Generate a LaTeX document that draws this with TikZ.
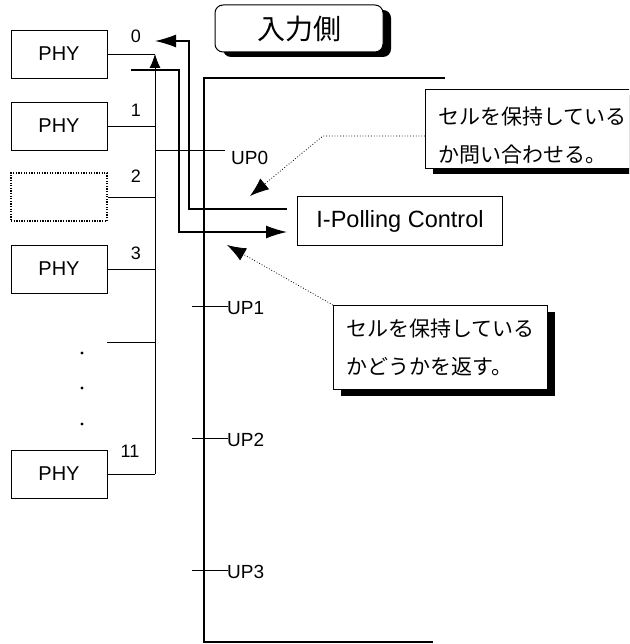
\documentclass[tikz,border=0pt]{standalone}
\usepackage{fontspec}
\setmainfont{Liberation Sans}
\newfontfamily\jpfont{Noto Sans CJK JP}
\usetikzlibrary{arrows.meta, positioning, shadows}

\begin{document}
\begin{tikzpicture}[x=1pt, y=-1pt, >={Latex[length=21pt,width=13pt]},
    phybox/.style={draw, line width=0.8pt, minimum width=96pt, minimum height=48pt, inner sep=0pt, font=\fontsize{20}{24}\selectfont},
    portnum/.style={inner sep=0pt, font=\fontsize{18}{20}\selectfont},
    uplabel/.style={anchor=west, inner sep=0pt, font=\fontsize{19}{22}\selectfont},
    wire/.style={line width=0.8pt},
    sig/.style={line width=1.3pt},
    hint/.style={draw, line width=1pt, fill=white, align=left, inner xsep=13pt, font=\jpfont\fontsize{21}{38}\selectfont,
        drop shadow={shadow xshift=7pt, shadow yshift=-6pt, opacity=1, fill=black}}]

    \path[use as bounding box, clip] (0,0) rectangle (629,644);

    % PHY side
    \node[phybox] (phy0) at (59,54) {PHY};
    \node[phybox] (phy1) at (59,126) {PHY};
    \node[phybox, line width=1.3pt, dash pattern=on 1.3pt off 1.3pt] (phy2) at (59,197) {};
    \node[phybox] (phy3) at (59,269) {PHY};
    \node[phybox] (phy11) at (59,474) {PHY};

    \node[portnum] (n0) at (136,36) {0};
    \node[portnum] (n1) at (136,110) {1};
    \node[portnum] (n2) at (136,176) {2};
    \node[portnum] (n3) at (136,253) {3};
    \node[portnum] (n11) at (130,451) {11};

    \foreach \y in {353,388,424}
        \fill (82,\y) circle (1.6pt);

    % bus
    \coordinate (bus) at (155,0);
    \coordinate (slot) at (107,342);
    \foreach \p in {phy1,phy2,phy3,phy11}
        \draw[wire] (\p.east) -- (\p.east -| bus);
    \draw[wire] (slot) -- (slot -| bus);
    \draw[wire] (phy0.east) -- (phy0.east -| bus);
    \draw[wire, -{Latex[length=14pt,width=11pt]}] (phy11.east -| bus) -- (phy0.east -| bus);

    \node[uplabel] (up0) at (231,158) {UP0};
    \draw[wire] (155,150) -- (225,150);

    % title
    \node[draw, rounded corners=8pt, line width=1pt, fill=white, minimum width=168pt, minimum height=47pt,
        font=\jpfont\fontsize{28}{32}\selectfont,
        drop shadow={shadow xshift=8pt, shadow yshift=-5pt, opacity=1, fill=black}] (title) at (299,28.5) {入力側};

    % input frame
    \coordinate (frameTL) at (204,78);
    \coordinate (frameBL) at (204,642);
    \draw[line width=2pt] (445,78) -- (frameTL) -- (frameBL) -- (433,642);

    \foreach \n/\y in {1/306, 2/438, 3/570} {
        \node[uplabel] (up\n) at (227,\y+2) {UP\n};
        \draw[wire] (192,\y) -- (228,\y);
    }

    % polling
    \node[draw, line width=1pt, minimum width=205pt, minimum height=48pt, font=\fontsize{23.5}{26}\selectfont] (ipc) at (400,221) {I-Polling Control};

    \coordinate (ret) at (155,41);
    \coordinate (poll) at (131,70);
    \draw[sig, ->] (287,209) -| (189,41) -- (ret);
    \draw[sig, ->] (poll) -| (179,232) -- (287,232);

    % notes
    \node[hint, anchor=north west, minimum height=79pt, text width=200pt] (ask) at (425,89) {\rule{0pt}{30pt}セルを保持している\\か問い合わせる。};
    \node[hint, anchor=north west, minimum height=84pt, minimum width=213pt] (reply) at (333,305) {セルを保持している\\かどうかを返す。};

    \draw[dotted, line width=0.8pt, -{Latex[length=19pt,width=14pt]}] (425,136) -- (323,136) -- (250,196);
    \draw[dotted, line width=0.8pt, -{Latex[length=19pt,width=14pt]}] (reply.north west) -- (227,245);

\end{tikzpicture}
\end{document}
